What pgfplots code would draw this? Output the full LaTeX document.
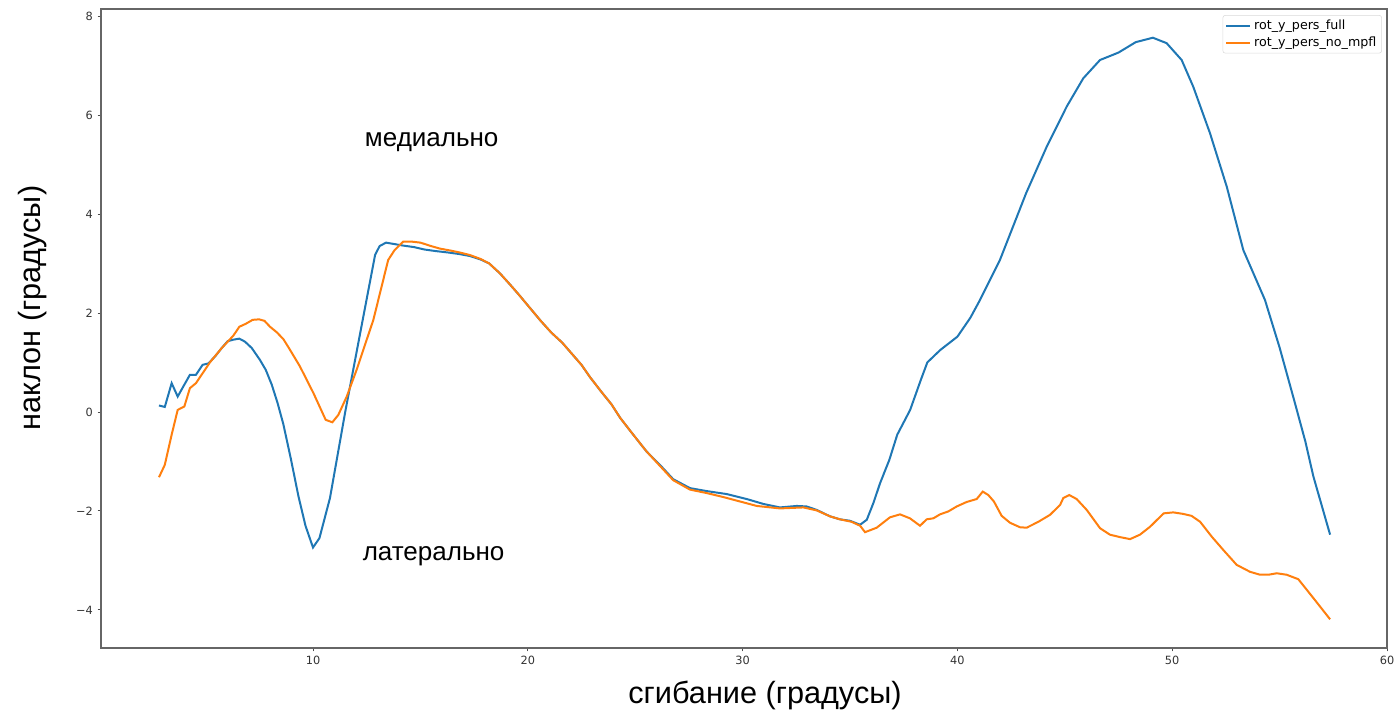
\documentclass[border=0pt]{standalone}
\usepackage{fontspec}
\setmainfont{Liberation Sans}
\newfontfamily\tickfont{DejaVu Sans}
\usepackage{pgfplots}
\pgfplotsset{compat=1.18}
\definecolor{tabblue}{HTML}{1F77B4}
\definecolor{taborange}{HTML}{FF7F0E}
\begin{document}
\begin{tikzpicture}
\begin{axis}[
  at={(0,0)}, anchor=south west,
  scale only axis, width=964.5pt, height=479.25pt,
  xmin=0.13, xmax=60, ymin=-4.77, ymax=8.14,
  xtick={10,20,30,40,50,60}, ytick={-4,-2,0,2,4,6,8},
  yticklabels={−4,−2,0,2,4,6,8},
  tick align=outside, tick pos=left,
  major tick length=2.6pt,
  every tick/.style={black!70, line width=0.6pt},
  axis line style={black!60, line width=1pt},
  tick label style={font=\tickfont\fontsize{8.5}{10}\selectfont, text=black!80},
  /pgf/number format/assume math mode=true,
  clip=false,
  legend cell align=left,
  legend style={at={(0.9961,0.9906)}, anchor=north east, draw=black!15, rounded corners=2pt,
    font=\tickfont\fontsize{9.5}{11}\selectfont, inner xsep=2pt, inner ysep=1.5pt, row sep=0pt},
  legend image code/.code={\draw[#1, line width=1.5pt] (0pt,0pt) -- (18pt,0pt);},
]
\addplot[tabblue, line width=1.5pt] coordinates {
(2.83,0.13) (3.10,0.10) (3.42,0.58) (3.70,0.31) (4.01,0.55) (4.27,0.75) (4.55,0.75)
(4.86,0.95) (5.13,0.98) (5.44,1.12) (5.75,1.29) (6.03,1.43) (6.30,1.46) (6.57,1.48)
(6.83,1.42) (7.15,1.29) (7.53,1.05) (7.80,0.85) (8.08,0.55) (8.35,0.18) (8.62,-0.25)
(8.97,-0.95) (9.32,-1.70) (9.65,-2.30) (10.00,-2.74) (10.30,-2.55) (10.79,-1.74)
(11.50,0.00) (12.20,1.60)
(12.89,3.17) (13.10,3.35) (13.40,3.42) (13.80,3.39) (14.20,3.36) (14.70,3.33)
(15.20,3.28) (15.70,3.25) (16.30,3.22) (16.80,3.19) (17.30,3.15) (17.80,3.08)
(18.20,3.00) (18.70,2.80) (19.20,2.56) (19.60,2.36) (20.10,2.10) (20.60,1.84)
(21.10,1.60) (21.60,1.40) (22.00,1.20) (22.50,0.95) (22.90,0.70) (23.40,0.42)
(23.90,0.15) (24.30,-0.12) (24.80,-0.40) (25.20,-0.62) (25.53,-0.80) (26.15,-1.07)
(26.77,-1.36) (27.55,-1.54) (28.33,-1.60) (29.26,-1.66) (30.19,-1.76) (30.97,-1.86)
(31.74,-1.93) (32.52,-1.90) (32.98,-1.91) (33.45,-1.98) (34.07,-2.11) (34.53,-2.17)
(35.00,-2.20) (35.47,-2.28) (35.78,-2.18) (36.09,-1.84) (36.40,-1.44) (36.83,-0.97)
(37.20,-0.46) (37.80,0.04) (38.30,0.65) (38.60,1.00) (39.20,1.25) (40.00,1.52)
(40.60,1.90) (41.05,2.26) (41.98,3.07) (43.20,4.42) (44.16,5.36) (45.09,6.17)
(45.86,6.74) (46.64,7.11) (47.50,7.26) (48.30,7.47) (49.10,7.56) (49.74,7.45)
(50.44,7.11) (50.98,6.57) (51.76,5.63) (52.54,4.55) (53.31,3.27) (54.32,2.26)
(55.00,1.30) (55.70,0.20) (56.20,-0.60) (56.57,-1.30) (57.35,-2.48)
};
\addlegendentry{rot\_y\_pers\_full}
\addplot[taborange, line width=1.5pt] coordinates {
(2.83,-1.32) (3.10,-1.07) (3.42,-0.46) (3.70,0.04) (4.01,0.11) (4.27,0.48) (4.55,0.58)
(4.86,0.78) (5.20,1.00) (5.75,1.29) (6.29,1.54) (6.57,1.72) (6.87,1.78) (7.19,1.86)
(7.49,1.87) (7.74,1.84) (8.00,1.72) (8.31,1.61) (8.62,1.47) (8.88,1.29) (9.39,0.92)
(10.02,0.38) (10.59,-0.16) (10.90,-0.21) (11.18,-0.06) (11.57,0.31) (12.03,0.85)
(12.81,1.86) (13.50,3.07) (13.80,3.27) (14.20,3.44) (14.60,3.44) (15.00,3.42)
(15.50,3.35) (15.90,3.30) (16.40,3.26) (16.84,3.22) (17.30,3.17) (17.80,3.09)
(18.20,3.00) (18.70,2.80) (19.20,2.56) (19.60,2.36) (20.10,2.10) (20.60,1.84)
(21.10,1.60) (21.60,1.40) (22.00,1.20) (22.50,0.95) (22.90,0.70) (23.40,0.42)
(23.90,0.15) (24.30,-0.12) (24.80,-0.40) (25.20,-0.62) (25.53,-0.80) (26.15,-1.09)
(26.77,-1.38) (27.55,-1.57) (28.33,-1.64) (29.10,-1.72) (29.88,-1.81) (30.66,-1.90)
(31.74,-1.95) (32.83,-1.93) (33.45,-1.99) (34.07,-2.11) (34.53,-2.17) (35.07,-2.22)
(35.47,-2.30) (35.70,-2.43) (36.24,-2.34) (36.86,-2.13) (37.33,-2.07) (37.79,-2.15)
(38.26,-2.30) (38.57,-2.17) (38.88,-2.15) (39.19,-2.07) (39.58,-2.01) (39.97,-1.91)
(40.43,-1.82) (40.90,-1.76) (41.18,-1.61) (41.44,-1.68) (41.70,-1.81) (42.06,-2.10)
(42.45,-2.24) (42.91,-2.33) (43.22,-2.34) (43.77,-2.22) (44.31,-2.08) (44.78,-1.88)
(44.93,-1.74) (45.21,-1.68) (45.55,-1.76) (46.02,-1.98) (46.64,-2.35) (47.10,-2.48)
(47.57,-2.53) (48.04,-2.57) (48.50,-2.48) (48.97,-2.32) (49.60,-2.05) (50.05,-2.03)
(50.50,-2.06) (50.90,-2.10) (51.30,-2.22) (51.84,-2.52) (52.38,-2.79) (53.00,-3.09)
(53.62,-3.23) (54.09,-3.29) (54.48,-3.29) (54.87,-3.26) (55.33,-3.29) (55.87,-3.38)
(56.57,-3.76) (57.35,-4.19)
};
\addlegendentry{rot\_y\_pers\_no\_mpfl}
\node[anchor=west, font=\fontsize{19.5}{22}\selectfont] at (axis cs:12.2,5.45) {медиально};
\node[anchor=west, font=\fontsize{19.5}{22}\selectfont] at (axis cs:12.1,-2.91) {латерально};
\end{axis}
\node[font=\fontsize{23}{27}\selectfont] at (498pt,-35.5pt) {сгибание (градусы)};
\node[font=\fontsize{23}{27}\selectfont, rotate=90] at (-51pt,255pt) {наклон (градусы)};
\pgfresetboundingbox
\path[use as bounding box] (-75.75pt,-49.5pt) rectangle (972pt,486pt);
\end{tikzpicture}
\end{document}
